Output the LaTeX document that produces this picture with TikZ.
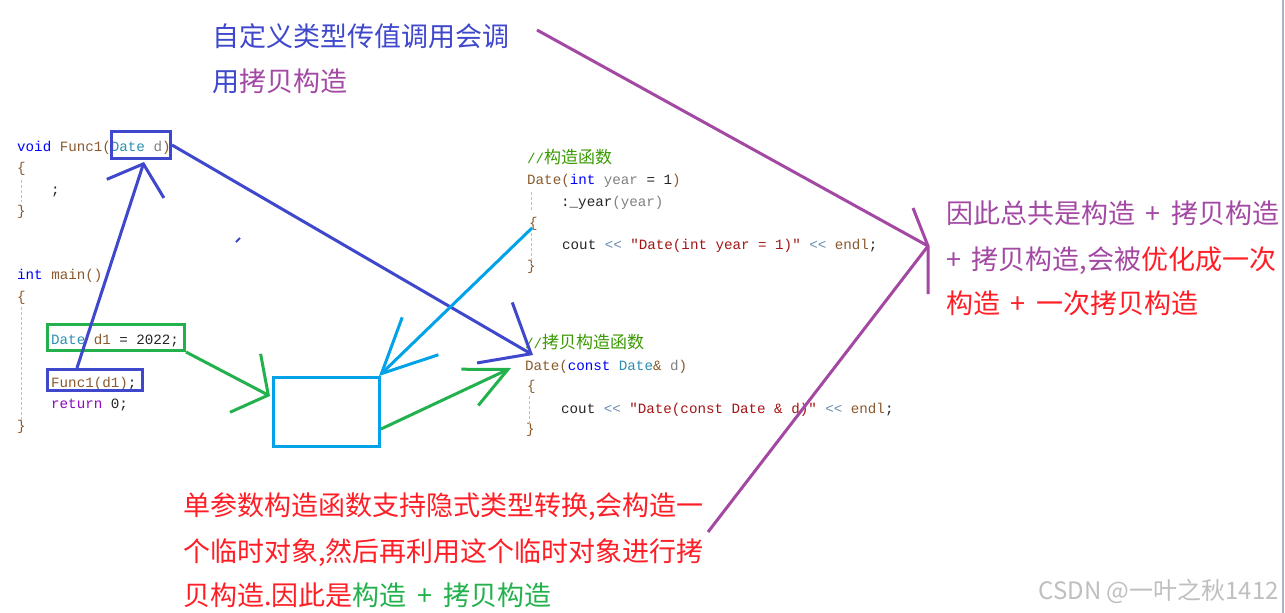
\documentclass[tikz,border=0pt]{standalone}
\usepackage{fontspec}
\setmonofont{Liberation Mono}
\newfontfamily\cjk{Noto Sans CJK SC}
\usetikzlibrary{positioning,fit,calc,arrows.meta}

\definecolor{penblue}{HTML}{3F48CC}
\definecolor{pencyan}{HTML}{00A2E8}
\definecolor{pengreen}{HTML}{22B14C}
\definecolor{penpurple}{HTML}{A349A4}
\definecolor{notered}{HTML}{FF1E26}
\definecolor{codekw}{HTML}{0000FF}
\definecolor{codety}{HTML}{2B91AF}
\definecolor{codefn}{HTML}{8A5A2E}
\definecolor{codepar}{HTML}{808080}
\definecolor{codestr}{HTML}{A31515}
\definecolor{codeop}{HTML}{6A8CAF}
\definecolor{codecom}{HTML}{3A9A00}
\definecolor{coderet}{HTML}{8F08C4}

\newcommand{\ckw}[1]{\textcolor{codekw}{#1}}
\newcommand{\cty}[1]{\textcolor{codety}{#1}}
\newcommand{\cfn}[1]{\textcolor{codefn}{#1}}
\newcommand{\cpar}[1]{\textcolor{codepar}{#1}}
\newcommand{\cstr}[1]{\textcolor{codestr}{#1}}
\newcommand{\cop}[1]{\textcolor{codeop}{#1}}
\newcommand{\ccom}[1]{\textcolor{codecom}{#1}}
\newcommand{\cret}[1]{\textcolor{coderet}{#1}}
\newcommand{\comcjk}[1]{{\cjk\fontsize{17}{17}\selectfont #1}}
\newcommand{\plussign}{\hspace{0.4em}+\hspace{0.4em}}

\begin{document}
\begin{tikzpicture}
		[x=1pt, y=-1pt,
		code/.style={anchor=base west, inner sep=0pt, text=black!85, font=\ttfamily\fontsize{14.2}{16}\selectfont},
		note/.style={anchor=base west, inner sep=0pt, font=\cjk\fontsize{27}{45}\selectfont},
		guide/.style={draw=black!25, line width=1pt, dash pattern=on 3pt off 2pt},
		penbox/.style={draw=#1, line width=3pt, inner sep=0pt},
		pen/.style={draw=#1, line width=3pt}]
		\useasboundingbox[fill=white] (0,0) rectangle (1285,613);

		% code: Func1 and main
		\node[code] (fsig) at (17,151) {\ckw{void} \cfn{Func1(}\cty{Date} \cpar{d}\cfn{)}};
		\node[code] (fopen) at (17,172.5) {\cfn{\{}};
		\node[code] (fbody) at (51,194) {;};
		\node[code] (fclose) at (17,215.5) {\cfn{\}}};
		\node[code] (msig) at (17,279) {\ckw{int} \cfn{main()}};
		\node[code] (mopen) at (17,301) {\cfn{\{}};
		\node[code] (mdecl) at (51,344) {\cty{Date} \cfn{d1} = 2022;};
		\node[code] (mcall) at (51,387) {\cfn{Func1(d1)};};
		\node[code] (mret) at (51,408) {\cret{return} 0;};
		\node[code] (mclose) at (17,430) {\cfn{\}}};
		\draw[guide] (21,180) -- (21,202);
		\draw[guide] (21,307) -- (21,420);

		% code: constructors
		\node[code] (ccom) at (527,163) {\ccom{//\comcjk{构造函数}}};
		\node[code] (chead) at (527,184) {\cfn{Date(}\ckw{int} \cpar{year} = 1\cfn{)}};
		\node[code] (cinit) at (561,206) {:\_year\cpar{(year)}};
		\node[code] (copen) at (529,227) {\cfn{\{}};
		\node[code] (cout1) at (562,249) {cout \cop{<<} \cstr{"Date(int year = 1)"} \cop{<<} \cfn{endl};};
		\node[code] (cclose) at (527,270) {\cfn{\}}};
		\draw[guide] (531,192) -- (531,212);
		\draw[guide] (531,233) -- (531,264);

		\node[code] (kcom) at (525,348) {\ccom{//\comcjk{拷贝构造函数}}};
		\node[code] (khead) at (525,370) {\cfn{Date(}\ckw{const} \cty{Date}\cfn{\&} \cpar{d}\cfn{)}};
		\node[code] (kopen) at (527,390) {\cfn{\{}};
		\node[code] (kout) at (561,413) {cout \cop{<<} \cstr{"Date(const Date \& d)"} \cop{<<} \cfn{endl};};
		\node[code] (kclose) at (526,433) {\cfn{\}}};
		\draw[guide] (529,396) -- (529,426);

		% boxes
		\node (boxd) [penbox=penblue, fit={(111.5,131.5) (170.5,158.5)}] {};
		\node (boxdd) [penbox=pengreen, fit={(47.5,324.5) (184.5,350.5)}] {};
		\node (boxf) [penbox=penblue, fit={(47.5,369.5) (142.5,390.5)}] {};
		\node (tmpbox) [penbox=pencyan, fit={(273.5,377.5) (379.5,446.5)}] {};

		% notes
		\node[note, text=penblue] (top1) at (212,46) {自定义类型传值调用会调};
		\node[note, text=penblue] (top2) at (212,91) {用\textcolor{penpurple}{拷贝构造}};
		\node[note, text=penpurple] (sum1) at (946,223) {因此总共是构造\plussign 拷贝构造};
		\node[note, text=penpurple] (sum2) at (946,269) {+\hspace{0.4em}拷贝构造,会被\textcolor{notered}{优化成一次}};
		\node[note, text=notered] (sum3) at (946,313) {构造\plussign 一次拷贝构造};
		\node[note, text=notered] (conv1) at (183,515) {单参数构造函数支持隐式类型转换,会构造一};
		\node[note, text=notered] (conv2) at (183,561) {个临时对象,然后再利用这个临时对象进行拷};
		\node[note, text=notered] (conv3) at (183,605) {贝构造.因此是\textcolor{pengreen}{构造\plussign 拷贝构造}};

		% arrows
		\coordinate (kblue) at (533,355);
		\coordinate (kgreen) at (511,368);
		\coordinate (cstart) at (532,228);
		\draw[pen=penblue, -{Straight Barb[length=26pt,width=60pt]}]
			([xshift=-18pt]boxf.north) -- ([xshift=3pt,yshift=-2pt]boxd.south);
		\draw[pen=penblue, -{Straight Barb[length=42pt,width=70pt]}]
			(boxd.east) -- (kblue);
		\draw[pen=pencyan, -{Straight Barb[length=54pt,width=52pt]}]
			(cstart) -- ([xshift=-2pt]tmpbox.north east);
		\draw[pen=pengreen, -{Straight Barb[length=26pt,width=66pt]}]
			(boxdd.south east) -- ([xshift=-2pt,yshift=16pt]tmpbox.west);
		\draw[pen=pengreen, -{Straight Barb[length=42pt,width=40pt]}]
			([yshift=-17pt]tmpbox.east) -- (kgreen);
		\draw[pen=penblue, line width=2pt] (236,242) -- (240,238);

		% purple arrow to the summary
		\coordinate (ptip) at (928,246);
		\coordinate (pstart1) at (537,30);
		\coordinate (pstart2) at (708,532);
		\draw[pen=penpurple] (pstart1) -- (ptip);
		\draw[pen=penpurple] (pstart2) -- (ptip);
		\draw[pen=penpurple] (913,208) -- (ptip) -- (928,294);

		% watermark and edge
		\node[anchor=base east, inner sep=0pt, text=black!25, font=\cjk\fontsize{24}{24}\selectfont] (mark) at (1279,599) {CSDN @一叶之秋1412};
		\draw[draw={rgb,255:red,168;green,180;blue,200}, line width=2pt] (1283,0) -- (1283,613);
	\end{tikzpicture}
\end{document}
